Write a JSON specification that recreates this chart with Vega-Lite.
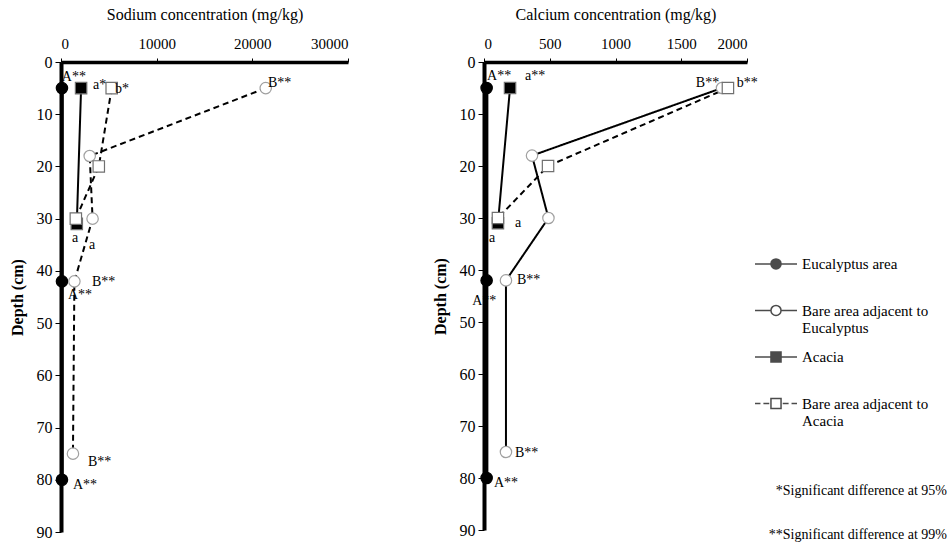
{
  "$schema": "https://vega.github.io/schema/vega-lite/v6.json",
  "padding": {"left": 9, "top": 6, "right": 0, "bottom": 0},
  "background": "white",
  "config": {
    "font": "Liberation Serif",
    "view": {"stroke": null},
    "axis": {"grid": false, "domainColor": "black", "tickColor": "black", "labelColor": "black", "titleColor": "black", "labelFont": "Liberation Serif", "titleFont": "Liberation Serif"},
    "title": {"font": "Liberation Serif", "subtitleFont": "Liberation Serif", "fontSize": 14, "subtitleFontSize": 14, "fontWeight": "normal", "color": "black", "subtitleColor": "black"}
  },
  "title": {"text": "*Significant difference at 95%", "subtitle": "**Significant difference at 99%", "orient": "bottom", "anchor": "end", "offset": -56, "subtitlePadding": 30, "dx": 18},
  "resolve": {
    "scale": {"shape": "independent"},
    "legend": {"shape": "independent"}
  },
  "datasets": {
    "pts": [
      {"element": "Sodium", "series": "Eucalyptus area", "depth": 5, "value": 100},
      {"element": "Sodium", "series": "Eucalyptus area", "depth": 42, "value": 100},
      {"element": "Sodium", "series": "Eucalyptus area", "depth": 80, "value": 100},
      {"element": "Sodium", "series": "Bare area adjacent to Eucalyptus", "depth": 5, "value": 21400},
      {"element": "Sodium", "series": "Bare area adjacent to Eucalyptus", "depth": 18, "value": 3000},
      {"element": "Sodium", "series": "Bare area adjacent to Eucalyptus", "depth": 30, "value": 3300},
      {"element": "Sodium", "series": "Bare area adjacent to Eucalyptus", "depth": 42, "value": 1400},
      {"element": "Sodium", "series": "Bare area adjacent to Eucalyptus", "depth": 75, "value": 1250},
      {"element": "Sodium", "series": "Acacia", "depth": 5, "value": 2100},
      {"element": "Sodium", "series": "Acacia", "depth": 31, "value": 1650},
      {"element": "Sodium", "series": "Bare area adjacent to Acacia", "depth": 5, "value": 5300},
      {"element": "Sodium", "series": "Bare area adjacent to Acacia", "depth": 20, "value": 3950},
      {"element": "Sodium", "series": "Bare area adjacent to Acacia", "depth": 30, "value": 1550},
      {"element": "Calcium", "series": "Eucalyptus area", "depth": 5, "value": 20},
      {"element": "Calcium", "series": "Eucalyptus area", "depth": 42, "value": 20},
      {"element": "Calcium", "series": "Eucalyptus area", "depth": 80, "value": 20},
      {"element": "Calcium", "series": "Bare area adjacent to Eucalyptus", "depth": 5, "value": 1810},
      {"element": "Calcium", "series": "Bare area adjacent to Eucalyptus", "depth": 18, "value": 365},
      {"element": "Calcium", "series": "Bare area adjacent to Eucalyptus", "depth": 30, "value": 490},
      {"element": "Calcium", "series": "Bare area adjacent to Eucalyptus", "depth": 42, "value": 167},
      {"element": "Calcium", "series": "Bare area adjacent to Eucalyptus", "depth": 75, "value": 167},
      {"element": "Calcium", "series": "Acacia", "depth": 5, "value": 198},
      {"element": "Calcium", "series": "Acacia", "depth": 31, "value": 106},
      {"element": "Calcium", "series": "Bare area adjacent to Acacia", "depth": 5, "value": 1855},
      {"element": "Calcium", "series": "Bare area adjacent to Acacia", "depth": 20, "value": 487},
      {"element": "Calcium", "series": "Bare area adjacent to Acacia", "depth": 30, "value": 106}
    ],
    "labs": [
      {"element": "Sodium", "text": "A**", "value": 80, "depth": 2.9},
      {"element": "Sodium", "text": "a*", "value": 3340, "depth": 4.4},
      {"element": "Sodium", "text": "b*", "value": 5640, "depth": 5.2},
      {"element": "Sodium", "text": "B**", "value": 21630, "depth": 4.0},
      {"element": "Sodium", "text": "a", "value": 1150, "depth": 33.7},
      {"element": "Sodium", "text": "a", "value": 2930, "depth": 35},
      {"element": "Sodium", "text": "B**", "value": 3240, "depth": 42.1},
      {"element": "Sodium", "text": "A**", "value": 730, "depth": 44.6},
      {"element": "Sodium", "text": "B**", "value": 2820, "depth": 76.6},
      {"element": "Sodium", "text": "A**", "value": 1250, "depth": 81},
      {"element": "Calcium", "text": "A**", "value": 23, "depth": 2.7},
      {"element": "Calcium", "text": "a**", "value": 312, "depth": 2.7},
      {"element": "Calcium", "text": "B**", "value": 1611, "depth": 4.1},
      {"element": "Calcium", "text": "b**", "value": 1923, "depth": 4.1},
      {"element": "Calcium", "text": "a", "value": 236, "depth": 30.9},
      {"element": "Calcium", "text": "a", "value": 38, "depth": 33.8},
      {"element": "Calcium", "text": "B**", "value": 251, "depth": 41.9},
      {"element": "Calcium", "text": "A**", "value": -90, "depth": 46},
      {"element": "Calcium", "text": "B**", "value": 236, "depth": 75.1},
      {"element": "Calcium", "text": "A**", "value": 76, "depth": 80.9}
    ]
  },
  "spacing": 83,
  "hconcat": [
    {
      "width": 287,
      "height": 470,
      "layer": [
        {
          "data": {"name": "pts"},
          "transform": [{"filter": "datum.element == 'Sodium'"}],
          "mark": {"type": "line", "color": "black"},
          "encoding": {
            "x": {"field": "value", "type": "quantitative", "scale": {"domain": [0, 30000], "nice": false, "zero": false},
              "axis": {"orient": "top", "title": "Sodium concentration (mg/kg)", "values": [0, 10000, 20000, 30000], "format": "d", "domainWidth": 3.5, "tickSize": 4, "labelFontSize": 15, "labelPadding": 7, "titleFontSize": 16, "titleFontWeight": "normal", "titlePadding": 14}},
            "y": {"field": "depth", "type": "quantitative", "scale": {"domain": [0, 90], "reverse": true, "nice": false},
              "axis": {"title": "Depth (cm)", "values": [0, 10, 20, 30, 40, 50, 60, 70, 80, 90], "domainWidth": 4, "tickSize": 6, "labelFontSize": 16, "labelPadding": 3, "titleFontSize": 16, "titleFontWeight": "bold", "titlePadding": 11}},
            "detail": {"field": "series", "type": "nominal"},
            "order": {"field": "depth", "type": "quantitative"},
            "strokeDash": {"condition": {"test": "indexof(datum.series, 'Bare') == 0", "value": [6, 4]}, "value": [1, 0]},
            "strokeWidth": {"condition": {"test": "datum.series == 'Eucalyptus area'", "value": 3.5}, "value": 2}
          }
        },
        {
          "data": {"name": "pts"},
          "transform": [{"filter": "datum.element == 'Sodium'"}],
          "mark": {"type": "point", "size": 130, "strokeWidth": 1.2, "opacity": 1},
          "encoding": {
            "x": {"field": "value", "type": "quantitative"},
            "y": {"field": "depth", "type": "quantitative"},
            "shape": {"condition": {"test": "indexof(datum.series, 'Acacia') >= 0", "value": "square"}, "value": "circle"},
            "fill": {"condition": {"test": "indexof(datum.series, 'Bare') == 0", "value": "white"}, "value": "black"},
            "stroke": {"condition": [{"test": "datum.series == 'Eucalyptus area'", "value": "black"}, {"test": "datum.series == 'Bare area adjacent to Eucalyptus'", "value": "#a0a0a0"}], "value": "#707070"}
          }
        },
        {
          "data": {"name": "labs"},
          "transform": [{"filter": "datum.element == 'Sodium'"}],
          "mark": {"type": "text", "align": "left", "baseline": "middle", "fontSize": 14, "font": "Liberation Serif", "color": "black"},
          "encoding": {
            "x": {"field": "value", "type": "quantitative"},
            "y": {"field": "depth", "type": "quantitative"},
            "text": {"field": "text", "type": "nominal"}
          }
        }
      ]
    },
    {
      "width": 263,
      "height": 468,
      "layer": [
        {
          "data": {"name": "pts"},
          "transform": [{"filter": "datum.element == 'Calcium'"}],
          "mark": {"type": "line", "color": "black"},
          "encoding": {
            "x": {"field": "value", "type": "quantitative", "scale": {"domain": [0, 2000], "nice": false, "zero": false},
              "axis": {"orient": "top", "title": "Calcium concentration  (mg/kg)", "values": [0, 500, 1000, 1500, 2000], "format": "d", "domainWidth": 3.5, "tickSize": 4, "labelFontSize": 15, "labelPadding": 7, "titleFontSize": 16, "titleFontWeight": "normal", "titlePadding": 14}},
            "y": {"field": "depth", "type": "quantitative", "scale": {"domain": [0, 90], "reverse": true, "nice": false},
              "axis": {"title": "Depth (cm)", "values": [0, 10, 20, 30, 40, 50, 60, 70, 80, 90], "domainWidth": 4, "tickSize": 6, "labelFontSize": 16, "labelPadding": 3, "titleFontSize": 16, "titleFontWeight": "bold", "titlePadding": 11}},
            "detail": {"field": "series", "type": "nominal"},
            "order": {"field": "depth", "type": "quantitative"},
            "strokeDash": {"condition": {"test": "datum.series == 'Bare area adjacent to Acacia'", "value": [6, 4]}, "value": [1, 0]},
            "strokeWidth": {"condition": {"test": "datum.series == 'Eucalyptus area'", "value": 3.5}, "value": 2}
          }
        },
        {
          "data": {"name": "pts"},
          "transform": [{"filter": "datum.element == 'Calcium'"}],
          "mark": {"type": "point", "size": 130, "strokeWidth": 1.2, "opacity": 1},
          "encoding": {
            "x": {"field": "value", "type": "quantitative"},
            "y": {"field": "depth", "type": "quantitative"},
            "shape": {"condition": {"test": "indexof(datum.series, 'Acacia') >= 0", "value": "square"}, "value": "circle"},
            "fill": {"condition": {"test": "indexof(datum.series, 'Bare') == 0", "value": "white"}, "value": "black"},
            "stroke": {"condition": [{"test": "datum.series == 'Eucalyptus area'", "value": "black"}, {"test": "datum.series == 'Bare area adjacent to Eucalyptus'", "value": "#a0a0a0"}], "value": "#707070"}
          }
        },
        {
          "data": {"name": "pts"},
          "transform": [{"filter": "datum.element == 'Legend only'"}],
          "mark": {"type": "point", "filled": false, "color": "black", "strokeWidth": 1.5},
          "encoding": {
            "x": {"field": "value", "type": "quantitative"},
            "y": {"field": "depth", "type": "quantitative"},
            "shape": {"field": "series", "type": "nominal",
              "scale": {"domain": ["Eucalyptus area", "Bare area adjacent to Eucalyptus", "Acacia", "Bare area adjacent to Acacia"],
                "range": [
                  "M-1,-0.24H-0.26M0.26,-0.24H1M-0.24,-0.24A0.24,0.24,0,1,1,0.24,-0.24A0.24,0.24,0,1,1,-0.24,-0.24M-0.2,-0.24A0.2,0.2,0,1,1,0.2,-0.24A0.2,0.2,0,1,1,-0.2,-0.24M-0.16,-0.24A0.16,0.16,0,1,1,0.16,-0.24A0.16,0.16,0,1,1,-0.16,-0.24M-0.12,-0.24A0.12,0.12,0,1,1,0.12,-0.24A0.12,0.12,0,1,1,-0.12,-0.24M-0.08,-0.24A0.08,0.08,0,1,1,0.08,-0.24A0.08,0.08,0,1,1,-0.08,-0.24M-0.04,-0.24A0.04,0.04,0,1,1,0.04,-0.24A0.04,0.04,0,1,1,-0.04,-0.24M-0.02,-0.24H0.02",
                  "M-1,-0.24H-0.26M0.26,-0.24H1M-0.24,-0.24A0.24,0.24,0,1,1,0.24,-0.24A0.24,0.24,0,1,1,-0.24,-0.24",
                  "M-1,-0.24H-0.26M0.26,-0.24H1M-0.24,-0.48H0.24V0H-0.24ZM-0.2,-0.44H0.2V-0.04H-0.2ZM-0.16,-0.4H0.16V-0.08H-0.16ZM-0.12,-0.36H0.12V-0.12H-0.12ZM-0.08,-0.32H0.08V-0.16H-0.08ZM-0.04,-0.28H0.04V-0.2H-0.04ZM-0.02,-0.24H0.02",
                  "M-1,-0.24H-0.74M-0.6,-0.24H-0.32M0.32,-0.24H0.6M0.74,-0.24H1M-0.24,-0.48H0.24V0H-0.24Z"
                ]},
              "legend": {
                "title": null, "orient": "none", "legendX": 270, "legendY": 185, "padding": 0,
                "symbolSize": 1764, "symbolStrokeWidth": 1.5, "symbolStrokeColor": "black", "rowPadding": 4.5, "gridAlign": "all",
                "labelFont": "Liberation Serif", "labelFontSize": 15, "labelColor": "black", "labelOffset": 4, "labelLimit": 300, "labelBaseline": "alphabetic",
                "labelExpr": "test(/adjacent to /, datum.label) ? ['Bare area adjacent to', slice(datum.label, 22)] : datum.label"
              }}
          }
        },
        {
          "data": {"name": "labs"},
          "transform": [{"filter": "datum.element == 'Calcium'"}],
          "mark": {"type": "text", "align": "left", "baseline": "middle", "fontSize": 14, "font": "Liberation Serif", "color": "black"},
          "encoding": {
            "x": {"field": "value", "type": "quantitative"},
            "y": {"field": "depth", "type": "quantitative"},
            "text": {"field": "text", "type": "nominal"}
          }
        }
      ]
    }
  ]
}
